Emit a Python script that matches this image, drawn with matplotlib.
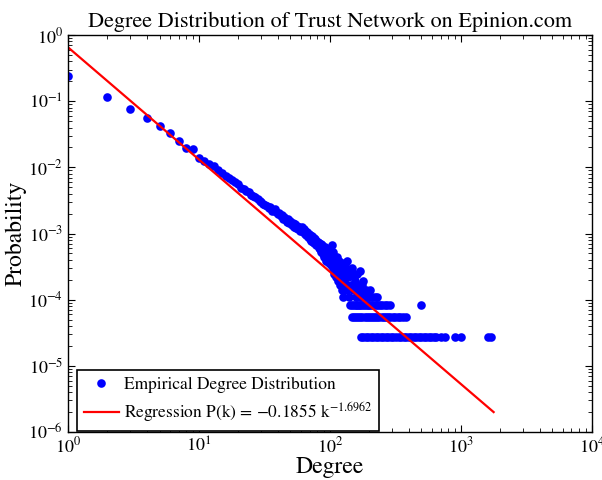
import numpy as np
import matplotlib
matplotlib.use("Agg")
import matplotlib.pyplot as plt

plt.rcParams['font.family'] = ['STIXGeneral', 'DejaVu Serif']
plt.rcParams['mathtext.fontset'] = 'stix'

# empirical degree distribution: degree and node count per degree
total_nodes = 36300

degrees = [1, 2, 3, 4, 5, 6, 7, 8, 9, 10,
           11, 12, 13, 14, 15, 16, 17, 18, 19, 20,
           21, 22, 23, 24, 25, 26, 27, 28, 29, 30,
           31, 32, 33, 34, 35, 36, 37, 38, 39, 40,
           41, 42, 43, 44, 45, 46, 47, 48, 49, 50,
           51, 52, 53, 54, 55, 56, 57, 58, 59, 60,
           61, 62, 63, 64, 65, 66, 67, 68, 69, 70,
           71, 72, 73, 74, 75, 76, 77, 78, 79, 80,
           81, 82, 83, 84, 85, 86, 87, 88, 89, 90,
           91, 92, 93, 94, 95, 96, 97, 98, 99, 100,
           101, 102, 103, 104, 105, 106, 107, 108, 109, 110,
           111, 112, 113, 114, 115, 116, 117, 118, 119, 120,
           122, 123, 124, 125, 126, 128, 130, 131, 132, 134,
           135, 137, 139, 140, 142, 145, 147, 150, 152, 155,
           158, 160, 163, 166, 169, 172, 175, 178, 182, 186,
           190, 195, 202, 210, 220, 228]
counts = [8700, 4170, 2760, 2000, 1520, 1200, 910, 710, 680, 510,
          460, 415, 375, 330, 295, 270, 250, 230, 215, 200,
          180, 170, 160, 152, 140, 135, 128, 120, 112, 108,
          100, 98, 95, 88, 90, 80, 82, 85, 76, 72,
          75, 66, 70, 60, 64, 58, 55, 60, 52, 56,
          48, 53, 46, 50, 44, 47, 42, 46, 40, 43,
          45, 38, 42, 36, 40, 34, 38, 32, 36, 30,
          35, 28, 33, 27, 31, 26, 30, 24, 28, 25,
          27, 22, 26, 21, 25, 19, 24, 18, 22, 16,
          23, 17, 20, 14, 21, 15, 18, 13, 19, 14,
          17, 12, 24, 15, 11, 19, 9, 14, 16, 10,
          13, 8, 16, 11, 7, 12, 14, 9, 6, 11,
          8, 5, 13, 4, 10, 7, 9, 12, 6, 14,
          5, 8, 4, 10, 9, 6, 11, 5, 8, 7,
          4, 9, 6, 5, 10, 4, 6, 7, 5, 4,
          5, 4, 5, 4, 4, 4]

# sparse tail: degrees seen three times, twice, once
deg_three = [143, 148, 153, 157, 162, 167, 171, 176, 181, 188, 194, 200,
             207, 215, 224, 233, 242, 252, 263, 275, 288, 495]
deg_two = [147, 154, 159, 165, 170, 177, 184, 191, 198, 205, 213, 222, 230,
           239, 248, 258, 268, 279, 290, 302, 315, 330, 345, 362, 380]
deg_one = [172, 180, 188, 196, 205, 214, 224, 234, 245, 256, 268, 280, 293,
           306, 320, 335, 350, 366, 383, 400, 418, 437, 457, 478, 500, 522,
           546, 571, 597, 624, 650, 700, 754, 898, 1000, 1620, 1700]

# fitted power law: log10 P = intercept + slope * log10 k
fit_intercept = -0.1855
fit_slope = -1.6962
fit_range = [1, 1780]

k_all = np.array(degrees + deg_three + deg_two + deg_one, dtype=float)
c_all = np.array(counts + [3] * len(deg_three) + [2] * len(deg_two) + [1] * len(deg_one), dtype=float)
prob = c_all / total_nodes

k_fit = np.array(fit_range, dtype=float)
p_fit = 10 ** fit_intercept * k_fit ** fit_slope

fig = plt.figure(figsize=(6.02, 4.8), dpi=100)
ax = fig.add_axes([0.113, 0.1, 0.870, 0.827])

ax.plot(k_all, prob, 'o', color='blue', markersize=6.2, markeredgewidth=0,
        label='Empirical Degree Distribution')
ax.plot(k_fit, p_fit, '-', color='red', linewidth=1.6,
        label=r'Regression P(k) = $-$0.1855 k$^{-1.6962}$')

ax.set_xscale('log')
ax.set_yscale('log')
ax.set_xlim(1, 1e4)
ax.set_ylim(1e-6, 1)

ax.tick_params(which='both', direction='in', top=True, right=True, labelsize=13)
ax.tick_params(which='major', length=5)
ax.tick_params(which='minor', length=3)
for s in ax.spines.values():
    s.set_linewidth(1.0)

ax.set_title('Degree Distribution of Trust Network on Epinion.com', fontsize=16, pad=6)
ax.set_xlabel('Degree', fontsize=17, labelpad=0)
ax.set_ylabel('Probability', fontsize=17, labelpad=1)

leg = ax.legend(loc='lower left', bbox_to_anchor=(9 / 524, 1 / 397), borderaxespad=0,
                fontsize=12.5, numpoints=1, fancybox=False, framealpha=1,
                handlelength=2.0, handletextpad=0.3, borderpad=0.4, labelspacing=0.4)
leg.get_frame().set_edgecolor('black')
leg.get_frame().set_linewidth(1.2)

fig.savefig('out.png', dpi=100)
